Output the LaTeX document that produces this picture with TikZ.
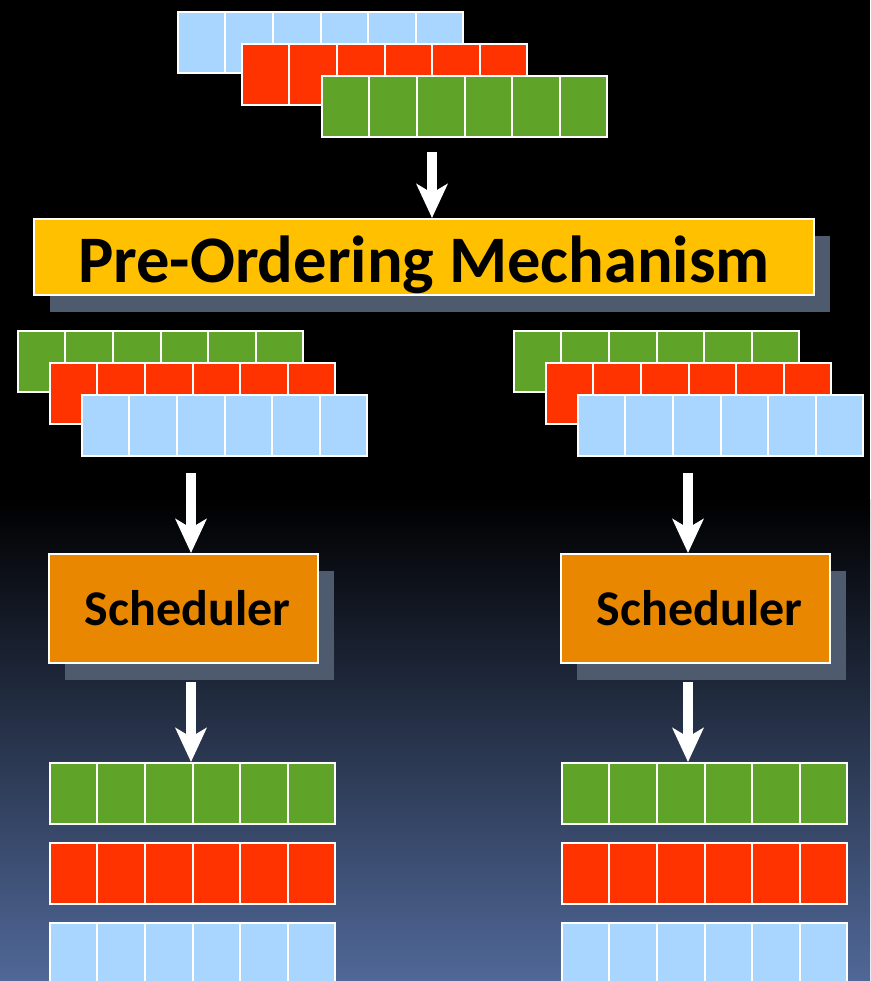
\documentclass[tikz,border=0pt]{standalone}
\usepackage{fontspec}
\setmainfont{Carlito}
\usetikzlibrary{calc,shadows,arrows.meta}

\definecolor{slotblue}{HTML}{A8D6FE}
\definecolor{slotred}{HTML}{FF3300}
\definecolor{slotgreen}{HTML}{60A329}
\definecolor{preyellow}{HTML}{FFC000}
\definecolor{schedorange}{HTML}{E98800}
\definecolor{boxshadow}{HTML}{4E5A6E}
\definecolor{bgblue}{HTML}{506898}

\tikzset{
  slotrow/.style={draw=white, line width=2pt, inner sep=0pt,
    minimum width=285pt, minimum height=61pt, anchor=north west},
  slotline/.style={draw=white, line width=2pt},
  bigbox/.style={draw=white, line width=2pt, inner sep=0pt,
    general shadow={fill=boxshadow, shadow xshift=16pt, shadow yshift=-17pt}},
  flow/.style={draw=white, line width=10pt,
    -{Stealth[length=34pt, width=31pt, inset=9pt]}}
}

% one row of six slots: name, left x, top y, colour
\newcommand{\slotrow}[4]{%
  \node[slotrow, fill=#4] (#1) at (#2+1,#3+1) {};
  \foreach \k in {1,...,5}
    \draw[slotline] ($(#1.north west)!\k/6!(#1.north east)$)
      -- ($(#1.south west)!\k/6!(#1.south east)$);
}

\begin{document}
\begin{tikzpicture}[x=1pt, y=-1pt]
  \useasboundingbox (0,0) rectangle (870,981);
  \clip (0,0) rectangle (870,981);

  % background
  \fill[black] (0,0) rectangle (870,500);
  \shade[top color=black, bottom color=bgblue] (0,499) rectangle (870,981);

  % incoming requests
  \slotrow{inB}{176}{10}{slotblue}
  \slotrow{inR}{240}{42}{slotred}
  \slotrow{inG}{320}{74}{slotgreen}

  \node[bigbox, fill=preyellow, minimum width=780pt, minimum height=76pt,
    text height=52pt, text depth=0pt]
    (pre) at (424,257) {\fontsize{66.5}{72}\selectfont\bfseries Pre-Ordering Mechanism};

  % ordered streams
  \slotrow{lG}{16}{329}{slotgreen}
  \slotrow{lR}{48}{361}{slotred}
  \slotrow{lB}{80}{393}{slotblue}

  \slotrow{rG}{512}{329}{slotgreen}
  \slotrow{rR}{544}{361}{slotred}
  \slotrow{rB}{576}{393}{slotblue}

  % schedulers
  \node[bigbox, fill=schedorange, minimum width=269pt, minimum height=109pt]
    (schedL) at (183.5,608.5) {\hspace{8pt}\fontsize{50}{56}\selectfont\bfseries Scheduler};
  \node[bigbox, fill=schedorange, minimum width=269pt, minimum height=109pt]
    (schedR) at (695.5,608.5) {\hspace{8pt}\fontsize{50}{56}\selectfont\bfseries Scheduler};

  % outputs
  \slotrow{loG}{48}{761}{slotgreen}
  \slotrow{loR}{48}{841}{slotred}
  \slotrow{loB}{48}{921}{slotblue}

  \slotrow{roG}{560}{761}{slotgreen}
  \slotrow{roR}{560}{841}{slotred}
  \slotrow{roB}{560}{921}{slotblue}

  % arrows
  \coordinate (a0) at (432,152);
  \coordinate (a1) at (191,473);
  \coordinate (a2) at (688,473);
  \coordinate (a3) at (191,682);
  \coordinate (a4) at (688,682);

  \draw[flow] (a0) -- (a0 |- pre.north);
  \draw[flow] (a1) -- (a1 |- schedL.north);
  \draw[flow] (a2) -- (a2 |- schedR.north);
  \draw[flow] (a3) -- (a3 |- loG.north);
  \draw[flow] (a4) -- (a4 |- roG.north);
\end{tikzpicture}
\end{document}
